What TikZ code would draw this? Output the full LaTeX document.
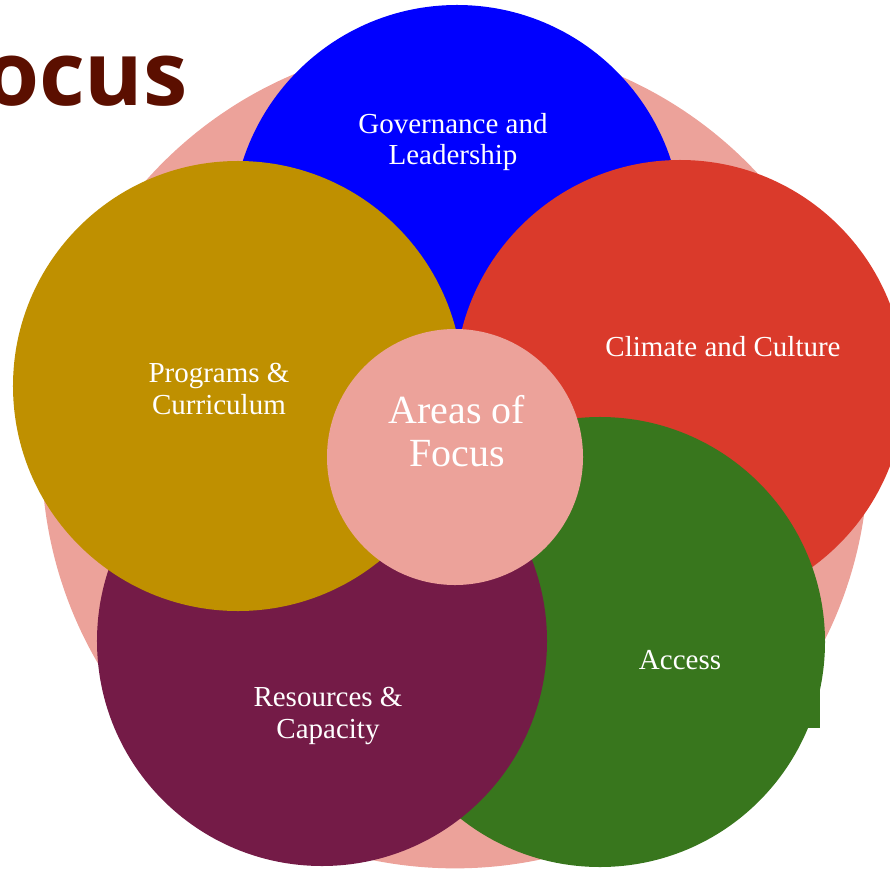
\documentclass[tikz,border=0pt]{standalone}
\usepackage{fontspec}
\setmainfont{Liberation Serif}
\newfontfamily\headfont{Open Sans}
\usepackage{xcolor}

\definecolor{ringpink}{HTML}{ECA29A}
\definecolor{govblue}{HTML}{0000FF}
\definecolor{climred}{HTML}{DA3A2B}
\definecolor{accgreen}{HTML}{38761D}
\definecolor{respurple}{HTML}{741B47}
\definecolor{proggold}{HTML}{BF9000}
\definecolor{titlered}{HTML}{5B0F00}

\begin{document}
\begin{tikzpicture}[
  x=0.03cm, y=-0.03cm,
  petal/.style={circle, inner sep=0pt, minimum size=13.5cm},
  lbl/.style={text=white, align=center, inner sep=0pt,
    font=\fontsize{24.75}{26.5}\selectfont},
]
\useasboundingbox (0,0) rectangle (890,870);
\clip (0,0) rectangle (890,870);

% outer ring behind everything
\node[circle, inner sep=0pt, minimum size=24.8cm, fill=ringpink] (ring) at (455,455) {};

% petals, back to front
\node[petal, fill=govblue]   (gov)  at (457,230) {};
\node[petal, fill=climred]   (clim) at (680,385) {};
\node[petal, fill=accgreen]  (acc)  at (600,642) {};
\fill[accgreen] (800,690) rectangle (820,728);
\node[petal, fill=respurple] (res)  at (322,641) {};
\node[petal, fill=proggold]  (prog) at (238,386) {};

% centre disc
\node[circle, inner sep=0pt, minimum size=7.68cm, fill=ringpink] (hub) at (455,457) {};

% labels
\node[lbl] (govtxt)  at (453,142) {Governance and\\Leadership};
\node[lbl] (climtxt) at (723,347) {Climate and Culture};
\node[lbl] (acctxt)  at (680,660) {Access};
\node[lbl] (restxt)  at (328,716) {Resources \&\\Capacity};
\node[lbl] (progtxt) at (219,389) {Programs \&\\Curriculum};
\node[lbl, font=\fontsize{34.1}{36.7}\selectfont] (hubtxt) at (457,431) {Areas of\\Focus};

% heading, running off the left edge
\node[anchor=base east, inner sep=0pt, text=titlered,
  font=\headfont\bfseries\fontsize{76}{80}\selectfont] (title) at (188,106) {Focus};
\end{tikzpicture}
\end{document}
